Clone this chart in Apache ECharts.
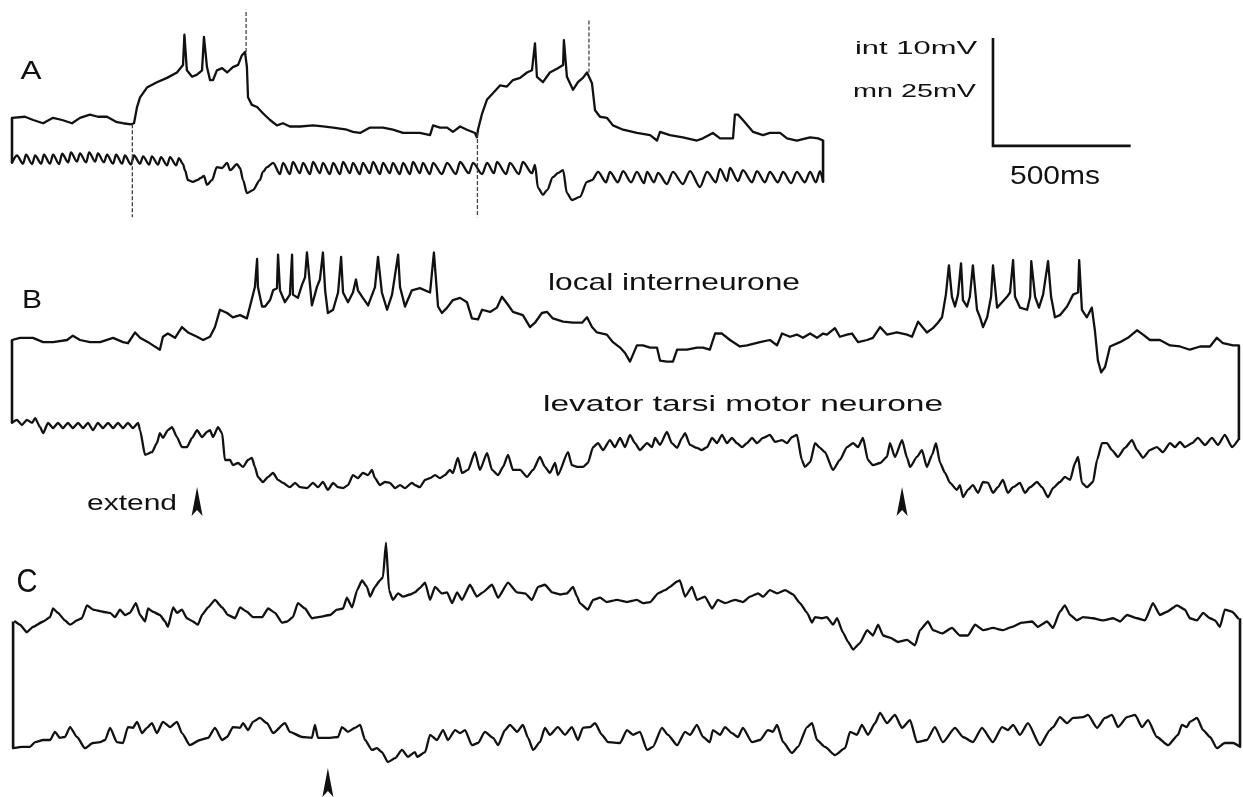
<!DOCTYPE html>
<html>
<head>
<meta charset="utf-8">
<script src="https://cdn.jsdelivr.net/npm/echarts@6/dist/echarts.min.js"></script>
<style>html,body{margin:0;padding:0;background:#fff}#chart{width:1243px;height:797px}</style>
</head>
<body>
<div id="chart"></div>
<script>
// ---------------- DATA (time in ms, membrane potential in mV relative to rest) ----------------
const A_INT = [[0,0.2],[47,0.3],[77,0.0],[113,-0.3],[149,0.2],[182,0.0],[218,-0.3],[247,0.2],[283,0.5],[312,0.3],[345,0.3],[381,-0.2],[403,-0.3],[432,-0.4],[443,-0.3],[454,1.2],[465,2.1],[490,3.0],[526,3.5],[563,3.9],[599,4.4],[621,5.1],[626,7.9],[635,4.6],[654,4.0],[672,4.2],[690,4.6],[697,7.7],[708,4.9],[719,3.7],[730,3.7],[744,4.6],[763,4.8],[781,4.4],[802,4.9],[821,5.1],[835,6.0],[846,6.3],[853,4.9],[857,2.1],[871,1.4],[890,1.2],[912,0.6],[937,0.0],[962,-0.5],[984,-0.3],[1009,-0.6],[1046,-0.6],[1093,-0.5],[1129,-0.6],[1166,-0.7],[1216,-0.9],[1238,-1.1],[1264,-1.2],[1300,-0.7],[1347,-0.7],[1383,-0.9],[1420,-1.2],[1481,-1.2],[1518,-1.4],[1529,-0.5],[1554,-0.7],[1580,-0.7],[1601,-1.1],[1627,-0.6],[1652,-0.9],[1681,-1.2],[1688,-1.6],[1692,-0.9],[1707,0.6],[1725,1.9],[1747,2.5],[1772,3.2],[1797,3.1],[1819,3.7],[1845,3.9],[1870,4.4],[1888,4.6],[1899,7.1],[1906,4.0],[1928,3.5],[1953,4.4],[1982,4.8],[2001,5.1],[2004,7.4],[2015,4.0],[2037,2.8],[2055,3.5],[2073,3.9],[2088,4.4],[2106,3.4],[2117,0.9],[2135,0.3],[2160,0.2],[2182,-0.5],[2219,-0.9],[2269,-1.2],[2317,-1.4],[2342,-1.9],[2353,-1.1],[2389,-1.4],[2436,-1.6],[2487,-1.9],[2509,-1.7],[2545,-1.2],[2571,-1.7],[2618,-1.7],[2625,0.5],[2636,0.5],[2654,0.0],[2691,-1.1],[2727,-1.4],[2752,-1.2],[2789,-1.2],[2814,-1.7],[2850,-1.9],[2898,-1.6],[2927,-1.7],[2945,-1.9]];

// fast transients of the interneurone in A (drawn faint): time, start level, extreme level
const A_INT_FAST_T    = [437, 850, 1690, 2095];
const A_INT_FAST_FROM = [-0.4, 6.3, -1.2, 4.4];
const A_INT_FAST_TO   = [-9.0, 10.2, -9.0, 9.4];

const A_MN = [[0,0.5],[18,2.2],[40,0.3],[51,2.4],[73,0.2],[84,2.2],[106,0.3],[116,2.4],[138,0.3],[149,2.4],[171,0.2],[182,2.6],[204,0.6],[214,2.9],[236,0.8],[247,2.7],[269,0.6],[280,2.9],[302,0.8],[312,2.7],[334,0.6],[345,2.4],[367,0.3],[378,2.4],[400,0.3],[410,2.2],[432,0.1],[443,2.2],[465,0.3],[476,2.0],[498,0.1],[508,2.0],[530,0.1],[541,1.8],[563,-0.1],[574,1.8],[596,-0.1],[606,1.6],[621,0.2],[628,-1.2],[639,-3.5],[657,-3.9],[672,-3.5],[686,-3.0],[697,-2.5],[708,-4.6],[726,-3.5],[744,-0.5],[763,-0.7],[781,0.5],[792,-1.2],[817,0.2],[828,-0.7],[839,-3.5],[853,-6.5],[875,-5.8],[900,-3.5],[911,-1.6],[926,-0.5],[948,0.5],[973,-2.1],[984,0.5],[1009,-2.1],[1020,0.7],[1045,-1.9],[1057,0.5],[1082,-2.1],[1093,0.7],[1118,-1.9],[1129,0.5],[1154,-2.1],[1166,0.5],[1191,-2.1],[1202,0.7],[1227,-1.9],[1238,0.5],[1263,-2.1],[1274,0.5],[1299,-1.9],[1311,0.7],[1336,-2.1],[1347,0.5],[1372,-1.9],[1383,0.5],[1408,-2.1],[1420,0.5],[1445,-2.1],[1456,0.7],[1481,-1.9],[1492,0.5],[1517,-2.1],[1529,0.5],[1561,-2.1],[1580,0.5],[1612,-2.1],[1627,0.7],[1659,-1.9],[1674,0.5],[1707,-2.1],[1725,0.5],[1750,-1.9],[1761,0.7],[1794,-2.1],[1808,0.5],[1841,-2.1],[1855,0.7],[1888,-1.9],[1899,0.0],[1910,-5.3],[1928,-6.9],[1943,-5.8],[1964,-2.8],[1982,-1.9],[2001,-1.2],[2015,-6.5],[2033,-8.1],[2062,-7.4],[2088,-3.9],[2106,-3.5],[2128,-1.6],[2157,-4.0],[2171,-1.6],[2200,-4.0],[2219,-1.4],[2248,-4.0],[2269,-1.6],[2295,-4.2],[2306,-1.6],[2331,-4.0],[2346,-1.8],[2378,-4.4],[2400,-1.6],[2436,-4.4],[2462,-1.4],[2498,-5.1],[2524,-1.6],[2556,-4.0],[2571,-0.9],[2596,-3.7],[2607,-0.7],[2636,-3.7],[2654,-1.2],[2687,-4.0],[2705,-1.4],[2734,-4.0],[2752,-1.6],[2781,-4.0],[2800,-1.6],[2829,-4.2],[2850,-1.6],[2879,-4.0],[2898,-1.6],[2919,-4.0],[2934,-1.4],[2945,-3.9]];

const B_INT = [[0,0.0],[29,0.2],[76,0.2],[113,-0.2],[149,-0.2],[200,0.0],[221,0.4],[247,0.0],[283,-0.2],[320,-0.2],[367,0.2],[403,-0.2],[421,-0.3],[447,0.7],[465,0.2],[494,-0.2],[512,-0.5],[537,-0.9],[548,0.3],[566,0.6],[592,0.2],[617,1.2],[639,0.7],[672,0.3],[694,0.0],[719,0.3],[737,1.2],[755,2.8],[781,2.5],[802,2.1],[828,2.3],[853,2.0],[864,3.1],[882,4.9],[890,7.5],[893,4.9],[908,3.1],[919,3.1],[937,3.7],[948,4.6],[962,4.8],[966,7.9],[973,4.6],[991,3.5],[1009,4.2],[1017,7.9],[1020,4.2],[1038,3.9],[1053,5.1],[1064,5.8],[1071,8.1],[1082,5.1],[1089,3.2],[1107,4.9],[1118,5.6],[1129,8.1],[1137,4.6],[1147,2.5],[1166,2.8],[1184,4.4],[1195,7.7],[1202,4.4],[1220,3.5],[1238,4.4],[1249,5.6],[1256,4.6],[1274,3.9],[1293,3.2],[1318,4.9],[1329,7.7],[1343,4.4],[1362,2.8],[1380,4.2],[1402,7.9],[1409,4.9],[1427,3.1],[1452,4.6],[1481,4.8],[1518,4.4],[1532,8.1],[1547,3.1],[1561,2.5],[1580,3.0],[1601,3.7],[1627,3.9],[1652,3.5],[1670,2.0],[1692,1.9],[1707,2.8],[1736,2.6],[1761,3.0],[1779,4.0],[1797,3.4],[1819,2.6],[1855,2.3],[1881,1.2],[1899,1.6],[1924,2.5],[1943,2.6],[1964,2.0],[2001,1.7],[2037,1.6],[2070,1.6],[2088,2.1],[2106,1.2],[2124,0.7],[2160,0.5],[2182,-0.2],[2208,-0.7],[2226,-1.2],[2244,-2.0],[2269,-0.5],[2291,-0.5],[2317,-0.7],[2342,-0.7],[2353,-1.9],[2378,-2.0],[2400,-2.0],[2415,-0.9],[2451,-0.9],[2487,-0.7],[2509,-0.7],[2534,-0.9],[2553,0.6],[2578,0.6],[2607,0.0],[2643,-0.6],[2669,-0.5],[2716,-0.2],[2752,0.0],[2778,-0.5],[2796,0.6],[2825,0.3],[2850,0.5],[2872,0.2],[2898,0.6],[2923,0.2],[2945,0.6],[2959,0.5],[2988,1.1],[3006,0.3],[3032,0.5],[3050,0.6],[3072,-0.2],[3105,0.0],[3126,0.2],[3152,1.2],[3177,0.5],[3213,0.7],[3250,0.5],[3268,0.3],[3290,1.7],[3322,0.7],[3344,1.1],[3362,1.6],[3377,2.1],[3391,4.2],[3402,6.9],[3413,4.0],[3424,3.1],[3435,4.2],[3446,7.1],[3453,3.7],[3468,3.1],[3478,4.0],[3489,6.9],[3504,2.8],[3515,2.1],[3526,1.2],[3541,2.1],[3555,4.0],[3562,6.9],[3577,3.0],[3595,3.5],[3613,4.0],[3624,4.4],[3635,7.4],[3642,4.0],[3660,3.0],[3686,2.8],[3697,4.0],[3701,7.3],[3715,4.0],[3729,3.0],[3744,4.2],[3762,7.3],[3773,4.0],[3787,2.1],[3805,2.3],[3831,3.1],[3853,4.2],[3871,4.4],[3875,7.4],[3885,2.8],[3903,2.1],[3921,3.0],[3932,0.9],[3943,-1.9],[3955,-3.0],[3969,-2.5],[3987,-0.6],[4023,-0.2],[4052,0.2],[4085,0.9],[4107,0.5],[4132,0.0],[4168,0.0],[4205,-0.5],[4241,-0.6],[4277,-0.9],[4314,-0.6],[4350,-0.6],[4375,0.2],[4397,-0.3],[4434,-0.5],[4455,-0.5]];

const B_MN = [[0,0.5],[18,1.2],[36,0.0],[54,1.2],[73,0.5],[84,1.6],[102,-0.5],[113,-1.9],[131,0.5],[149,-0.7],[167,0.5],[185,-0.7],[203,0.5],[221,-0.7],[240,0.5],[258,-0.7],[276,0.5],[294,-1.2],[312,0.5],[330,-0.7],[349,0.5],[367,-0.7],[385,0.5],[403,-0.7],[421,0.5],[439,-0.7],[458,0.5],[465,-1.2],[483,-6.9],[508,-6.3],[526,-4.2],[537,-1.9],[548,-3.0],[566,-1.2],[581,-0.5],[599,-2.8],[617,-5.1],[635,-5.1],[654,-3.0],[672,-1.2],[690,-2.8],[708,-1.6],[719,-1.2],[730,-2.8],[748,-0.5],[763,-1.9],[773,-8.1],[792,-8.1],[802,-9.3],[821,-8.8],[839,-9.7],[857,-8.1],[871,-7.6],[882,-9.7],[893,-12.0],[911,-13.2],[930,-12.0],[948,-11.1],[966,-12.7],[984,-13.4],[1009,-14.4],[1028,-13.4],[1046,-14.4],[1071,-14.6],[1093,-13.4],[1111,-14.4],[1129,-13.2],[1147,-15.0],[1166,-13.4],[1184,-14.4],[1202,-14.6],[1220,-13.9],[1238,-11.6],[1256,-12.3],[1274,-11.1],[1293,-11.6],[1307,-10.4],[1318,-12.3],[1336,-13.9],[1354,-13.2],[1372,-13.4],[1391,-14.6],[1409,-13.9],[1427,-14.6],[1452,-13.4],[1463,-13.9],[1481,-14.4],[1500,-12.7],[1518,-12.3],[1536,-11.6],[1554,-12.3],[1572,-11.6],[1590,-10.4],[1601,-11.1],[1619,-7.6],[1634,-11.1],[1656,-10.4],[1681,-6.3],[1699,-10.4],[1725,-6.5],[1743,-10.4],[1765,-11.6],[1783,-9.7],[1801,-6.9],[1819,-10.4],[1845,-10.4],[1870,-12.0],[1892,-10.4],[1917,-7.4],[1935,-9.7],[1953,-11.1],[1972,-8.8],[1982,-11.6],[2019,-6.3],[2033,-9.3],[2052,-9.7],[2073,-9.7],[2091,-8.8],[2110,-5.1],[2128,-4.2],[2146,-5.8],[2171,-3.5],[2189,-5.1],[2208,-3.0],[2226,-5.1],[2244,-2.3],[2262,-4.2],[2280,-5.8],[2306,-4.2],[2324,-5.1],[2335,-3.0],[2353,-4.6],[2378,-1.6],[2396,-4.2],[2415,-5.3],[2433,-3.0],[2444,-1.9],[2462,-4.6],[2487,-5.3],[2505,-5.8],[2524,-5.1],[2542,-3.0],[2560,-4.2],[2578,-2.3],[2596,-4.2],[2614,-3.0],[2632,-4.2],[2651,-5.1],[2669,-4.2],[2687,-3.0],[2705,-4.2],[2727,-3.0],[2752,-2.3],[2771,-3.9],[2796,-3.5],[2814,-4.2],[2832,-2.8],[2850,-2.3],[2868,-8.1],[2879,-9.7],[2898,-8.6],[2916,-4.2],[2934,-5.3],[2952,-6.3],[2981,-10.4],[3006,-8.1],[3032,-5.1],[3054,-4.2],[3072,-5.1],[3090,-3.0],[3108,-8.1],[3126,-9.3],[3152,-8.8],[3177,-7.4],[3188,-4.2],[3206,-7.4],[3232,-3.5],[3250,-7.6],[3261,-9.7],[3286,-7.4],[3304,-5.8],[3322,-9.7],[3341,-6.9],[3355,-4.2],[3370,-8.8],[3388,-11.1],[3406,-13.4],[3431,-15.0],[3442,-13.9],[3453,-16.7],[3471,-15.0],[3489,-13.9],[3508,-15.7],[3526,-13.2],[3544,-13.4],[3562,-15.7],[3580,-14.4],[3598,-12.7],[3616,-15.7],[3635,-14.4],[3660,-13.4],[3678,-15.7],[3697,-14.4],[3722,-13.2],[3740,-14.4],[3762,-16.7],[3780,-14.6],[3805,-13.2],[3823,-12.0],[3842,-12.7],[3860,-8.8],[3871,-7.4],[3885,-13.4],[3903,-14.4],[3925,-13.2],[3940,-8.1],[3958,-4.2],[3976,-4.2],[3994,-5.8],[4016,-7.4],[4041,-5.3],[4067,-3.5],[4085,-5.8],[4107,-7.6],[4132,-5.8],[4157,-5.1],[4179,-6.3],[4205,-4.2],[4223,-5.1],[4241,-3.9],[4259,-5.1],[4285,-4.2],[4306,-3.0],[4332,-4.6],[4357,-3.0],[4379,-4.6],[4404,-2.3],[4430,-5.1],[4452,-3.5]];

const C_INT = [[11,-0.6],[29,-0.9],[54,-1.6],[76,-1.1],[113,-0.6],[138,-0.2],[149,0.6],[167,0.2],[192,-0.5],[211,-0.9],[236,-0.5],[254,-0.3],[272,0.9],[294,0.5],[330,0.3],[356,0.2],[374,-0.2],[392,0.5],[410,0.0],[428,0.2],[450,1.1],[465,0.0],[483,-0.6],[494,0.6],[512,0.3],[537,0.0],[556,-0.6],[566,-1.1],[585,0.7],[599,0.2],[617,0.5],[635,-0.3],[657,-0.6],[675,-0.9],[690,0.0],[712,0.7],[737,1.4],[763,0.7],[784,0.0],[810,-0.3],[828,0.7],[853,0.3],[875,-0.2],[908,-0.2],[930,0.6],[955,0.2],[980,-0.7],[999,-0.6],[1020,-0.2],[1038,1.1],[1064,0.6],[1089,-0.3],[1111,-0.2],[1155,0.0],[1180,0.5],[1202,0.6],[1216,1.6],[1235,0.7],[1253,2.3],[1271,3.2],[1289,2.6],[1300,1.7],[1318,2.6],[1336,3.2],[1347,3.5],[1358,6.7],[1369,2.3],[1383,1.4],[1402,2.0],[1420,1.7],[1445,1.9],[1463,2.1],[1481,2.5],[1500,3.0],[1518,1.4],[1536,2.6],[1561,2.0],[1580,2.1],[1598,1.1],[1616,2.1],[1634,1.4],[1663,2.8],[1688,1.7],[1710,2.1],[1743,2.8],[1765,1.6],[1801,3.0],[1834,2.1],[1863,2.0],[1888,1.4],[1910,2.6],[1935,2.8],[1961,2.1],[1990,1.9],[2015,2.0],[2037,2.6],[2052,1.7],[2062,1.1],[2091,0.5],[2110,1.4],[2135,1.6],[2160,1.2],[2197,1.4],[2233,1.2],[2269,1.4],[2291,1.1],[2317,1.2],[2346,2.0],[2371,2.3],[2389,2.6],[2415,3.1],[2425,3.2],[2444,1.7],[2469,2.6],[2487,1.4],[2516,1.7],[2542,0.6],[2563,1.4],[2589,1.1],[2625,1.4],[2654,1.2],[2680,1.7],[2709,2.0],[2727,1.7],[2752,2.3],[2778,2.0],[2807,2.3],[2836,1.9],[2861,1.1],[2887,0.2],[2905,-0.7],[2916,-0.2],[2941,-0.3],[2959,-0.2],[2981,-0.9],[2996,-0.3],[3017,-1.6],[3036,-2.5],[3054,-3.2],[3079,-2.6],[3105,-1.4],[3126,-1.9],[3145,-0.9],[3163,-1.9],[3188,-2.1],[3217,-2.5],[3250,-2.3],[3279,-2.8],[3297,-1.4],[3326,-0.6],[3344,-1.4],[3377,-1.7],[3413,-1.2],[3442,-1.9],[3471,-1.9],[3497,-0.9],[3526,-1.4],[3562,-1.2],[3598,-1.4],[3631,-1.1],[3667,-0.7],[3704,-0.6],[3725,-1.1],[3758,-0.6],[3780,-1.2],[3805,0.3],[3823,0.9],[3842,0.0],[3867,-0.5],[3889,-0.2],[3925,-0.3],[3961,-0.5],[3998,-0.3],[4023,-0.6],[4049,0.0],[4085,-0.3],[4114,-0.5],[4143,1.1],[4168,0.0],[4194,0.3],[4230,0.9],[4259,0.5],[4277,-0.3],[4303,-0.5],[4325,0.2],[4350,-0.3],[4368,-0.5],[4386,-1.1],[4404,0.5],[4430,0.3],[4452,-0.3]];

const C_MN = [[4,-1.9],[40,-1.6],[65,-1.6],[84,-0.5],[113,0.0],[138,0.0],[156,1.9],[174,0.5],[192,0.7],[211,3.0],[236,0.7],[265,-1.9],[294,-0.7],[320,-0.5],[338,0.0],[356,2.8],[381,-0.5],[403,-0.7],[421,3.0],[439,2.8],[454,4.2],[472,1.6],[490,2.8],[508,3.9],[526,1.6],[548,4.2],[574,3.0],[599,4.2],[617,1.6],[646,-1.2],[683,0.0],[712,0.5],[737,2.8],[763,0.0],[781,0.7],[802,3.0],[828,2.8],[839,3.9],[857,2.3],[875,4.2],[900,5.1],[926,3.9],[948,1.6],[991,3.9],[1009,1.9],[1053,0.7],[1089,0.5],[1100,3.5],[1111,0.5],[1155,0.5],[1184,0.7],[1198,3.0],[1220,1.9],[1245,2.8],[1264,3.5],[1282,0.0],[1307,-2.3],[1325,-1.9],[1343,-2.8],[1365,-5.1],[1391,-4.2],[1416,-2.3],[1438,-3.9],[1463,-2.8],[1471,-3.9],[1500,-2.8],[1518,1.2],[1543,0.0],[1565,2.3],[1583,0.0],[1609,2.3],[1627,1.6],[1645,2.3],[1670,-1.2],[1692,-0.7],[1717,1.9],[1747,0.5],[1765,-1.2],[1790,2.3],[1808,3.5],[1834,1.9],[1855,3.5],[1874,0.5],[1892,-2.3],[1917,-0.5],[1935,2.8],[1953,1.2],[1982,3.0],[2008,1.2],[2033,3.0],[2055,0.0],[2073,2.8],[2099,3.0],[2117,3.9],[2142,1.2],[2164,-0.5],[2208,-0.7],[2233,2.3],[2255,1.2],[2280,1.9],[2306,-2.3],[2327,-1.6],[2360,2.8],[2382,1.2],[2415,-1.2],[2444,1.9],[2462,1.2],[2487,3.5],[2509,0.7],[2534,-0.5],[2545,2.3],[2571,1.2],[2589,3.0],[2614,1.6],[2636,0.7],[2654,2.8],[2687,-0.5],[2716,0.0],[2745,2.3],[2763,1.9],[2778,3.5],[2800,-0.5],[2832,-3.0],[2854,-1.6],[2887,3.0],[2905,3.9],[2923,0.0],[2952,-1.6],[2988,-3.5],[3025,-1.9],[3043,1.9],[3068,1.2],[3086,3.5],[3108,1.2],[3134,3.9],[3152,6.3],[3177,3.9],[3206,5.8],[3232,2.8],[3261,4.6],[3286,-0.5],[3322,0.0],[3351,3.0],[3380,-0.5],[3424,2.8],[3453,0.7],[3489,-0.5],[3522,2.8],[3562,-0.5],[3595,3.0],[3616,2.3],[3635,3.5],[3660,1.2],[3689,3.9],[3733,-1.2],[3769,2.3],[3780,3.0],[3805,5.3],[3831,3.9],[3853,5.1],[3889,5.3],[3907,5.8],[3940,2.8],[3969,5.1],[3994,5.8],[4016,3.0],[4049,5.3],[4078,5.8],[4103,3.0],[4125,4.6],[4157,0.7],[4198,-1.2],[4234,1.2],[4248,3.5],[4266,3.0],[4277,4.2],[4303,5.1],[4325,2.3],[4350,0.7],[4375,-1.9],[4404,-0.7],[4434,-0.7],[4459,-1.6]];

// leg extension onsets (arrowheads), ms
const EXTEND_B = [672, 3232];
const EXTEND_C = [1147];

// calibration
const SCALE_MS = 500;
const SCALE_INT_MV = 10;
const SCALE_MN_MV = 25;

// ---------------- LAYOUT ----------------
const BAR_PX = 137.7;                  // length of the 500 ms bar on the page
const MS_PER_PX = SCALE_MS / BAR_PX;
const INT_K = 108 / SCALE_INT_MV;      // px per mV, interneurone
const MN_K  = 108 / SCALE_MN_MV;       // px per mV, motor neurone
const X0 = 12, T_MAX = 4460, GRID_W = T_MAX / MS_PER_PX;
const INK = '#111';

const TRACES = [
  {data: A_INT, zeroY: 120, min: -10, max: 11, k: INT_K, smooth: 0},
  {data: A_MN,  zeroY: 165, min: -10, max: 8,  k: MN_K,  smooth: 0.3},
  {data: B_INT, zeroY: 340, min: -5,  max: 10, k: INT_K, smooth: 0},
  {data: B_MN,  zeroY: 425, min: -19, max: 4,  k: MN_K,  smooth: 0.2},
  {data: C_INT, zeroY: 615, min: -5,  max: 8,  k: INT_K, smooth: 0.15},
  {data: C_MN,  zeroY: 740, min: -7,  max: 8,  k: MN_K,  smooth: 0.2}
];

const chart = echarts.init(document.getElementById('chart'), null, {renderer: 'canvas', width: 1243, height: 797});

const grids = TRACES.map(tr => ({left: X0, width: GRID_W, top: tr.zeroY - tr.max * tr.k, height: (tr.max - tr.min) * tr.k, containLabel: false}));
const xAxes = TRACES.map((tr, i) => ({type: 'value', gridIndex: i, min: 0, max: T_MAX, show: false}));
const yAxes = TRACES.map((tr, i) => ({type: 'value', gridIndex: i, min: tr.min, max: tr.max, show: false}));

const series = TRACES.map((tr, i) => ({
  type: 'line', xAxisIndex: i, yAxisIndex: i, data: tr.data,
  symbol: 'none', showSymbol: false, clip: false, silent: true, animation: false,
  smooth: tr.smooth, smoothMonotone: 'x',
  lineStyle: {color: INK, width: 2.3, join: 'round', cap: 'round'}
}));

// faint fast transients in A
A_INT_FAST_T.forEach((t, j) => {
  series.push({
    type: 'line', xAxisIndex: 0, yAxisIndex: 0,
    data: [[t, A_INT_FAST_FROM[j]], [t, A_INT_FAST_TO[j]]],
    symbol: 'none', clip: false, silent: true, animation: false,
    lineStyle: {color: '#444', width: 1.3, type: [4, 2]}
  });
});

// calibration bars (drawn in the A interneurone axes)
const SB_T = 3562, SB_V = -2.4;
series.push({
  type: 'line', xAxisIndex: 0, yAxisIndex: 0,
  data: [[SB_T, SB_V + SCALE_INT_MV], [SB_T, SB_V], [SB_T + SCALE_MS, SB_V]],
  symbol: 'none', clip: false, silent: true, animation: false,
  lineStyle: {color: INK, width: 2.6, join: 'miter'}
});

chart.setOption({
  backgroundColor: '#ffffff',
  animation: false,
  grid: grids, xAxis: xAxes, yAxis: yAxes, series: series
});

// ---------------- decorations that depend on the data scales ----------------
function px(i, t, v) { return chart.convertToPixel({xAxisIndex: i, yAxisIndex: i}, [t, v]); }

const graphics = [];
for (let p = 0; p < 3; p++) {
  const iI = 2 * p, iM = 2 * p + 1;
  const di = TRACES[iI].data, dm = TRACES[iM].data;
  const tL = Math.min(di[0][0], dm[0][0]);
  const a = px(iI, tL, di[0][1]), b = px(iM, tL, dm[0][1]);
  graphics.push({type: 'line', shape: {x1: a[0], y1: a[1], x2: b[0], y2: b[1]}, style: {stroke: INK, lineWidth: 2.6}});
  const li = di[di.length - 1], lm = dm[dm.length - 1];
  const tR = Math.max(li[0], lm[0]);
  const c = px(iI, tR, li[1]), d = px(iM, tR, lm[1]);
  graphics.push({type: 'line', shape: {x1: c[0], y1: c[1], x2: d[0], y2: d[1]}, style: {stroke: INK, lineWidth: 2.6}});
}

function arrow(x, tipY) {
  return {type: 'polygon', shape: {points: [[x, tipY], [x + 5.5, tipY + 29], [x, tipY + 23], [x - 5.5, tipY + 29]]}, style: {fill: INK}};
}
EXTEND_B.forEach(t => graphics.push(arrow(px(3, t, 0)[0], 487)));
EXTEND_C.forEach(t => graphics.push(arrow(px(5, t, 0)[0], 768)));

// texts
const FONT = '"Liberation Sans", Arial, Helvetica, sans-serif';
const mctx = document.createElement('canvas').getContext('2d');
function textW(str, size) { mctx.font = size + 'px ' + FONT; return mctx.measureText(str).width; }
const LABELS = [
  {text: 'A', x: 31, y: 72, size: 26, align: 'center', w: 21},
  {text: 'B', x: 32, y: 301, size: 26, align: 'center', w: 20},
  {text: 'C', x: 27, y: 583, size: 33, align: 'center', w: 21},
  {text: 'int 10mV', x: 977, y: 49, size: 19, align: 'right', w: 122},
  {text: 'mn 25mV', x: 976, y: 92, size: 19, align: 'right', w: 123},
  {text: '500ms', x: 1055, y: 177, size: 25, align: 'center', w: 90},
  {text: 'local interneurone', x: 674, y: 283, size: 24, align: 'center', w: 252},
  {text: 'levator tarsi motor neurone', x: 743, y: 405, size: 22, align: 'center', w: 400},
  {text: 'extend', x: 132, y: 504, size: 22, align: 'center', w: 90}
];
LABELS.forEach(L => {
  const s = L.w ? L.w / textW(L.text, L.size) : 1;
  graphics.push({
    type: 'text', x: L.x, y: L.y, scaleX: s, scaleY: 1, silent: true,
    style: {text: L.text, fill: INK, font: L.size + 'px ' + FONT,
            textAlign: L.align, textVerticalAlign: 'middle', align: L.align, verticalAlign: 'middle'}
  });
});

chart.setOption({graphic: graphics});
</script>
</body>
</html>
